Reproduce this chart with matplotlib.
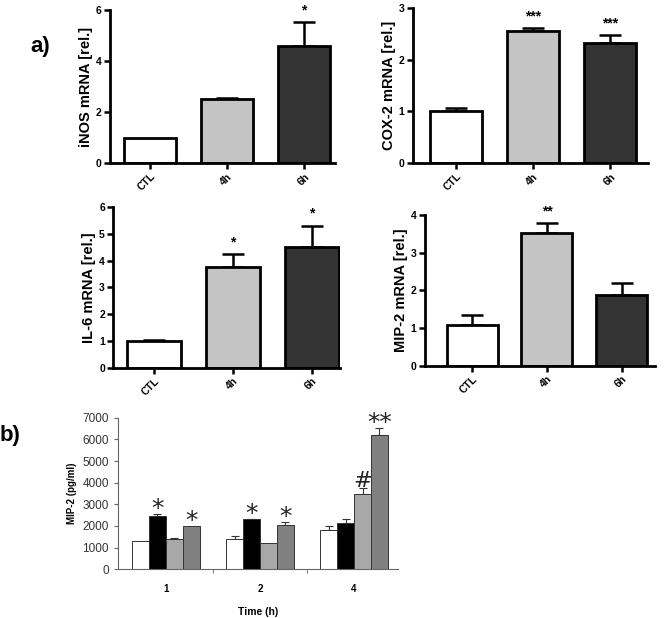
import numpy as np
import matplotlib
matplotlib.use('Agg')
import matplotlib.pyplot as plt

plt.rcParams['font.family'] = ['Liberation Sans', 'DejaVu Sans']

# panel a data
groups = ['CTL', '4h', '6h']
inos = [1.0, 2.5, 4.6]
inos_err = [0.0, 0.07, 0.93]
inos_sig = ['', '', '*']
cox2 = [1.01, 2.56, 2.32]
cox2_err = [0.06, 0.06, 0.15]
cox2_sig = ['', '***', '***']
il6 = [1.0, 3.75, 4.5]
il6_err = [0.03, 0.5, 0.8]
il6_sig = ['', '*', '*']
mip2 = [1.08, 3.52, 1.89]
mip2_err = [0.26, 0.28, 0.31]
mip2_sig = ['', '**', '']

# panel b data
times = ['1', '2', '4']
b_white = [1320, 1390, 1810]
b_white_err = [0, 130, 180]
b_black = [2450, 2300, 2130]
b_black_err = [80, 30, 180]
b_light = [1400, 1200, 3470]
b_light_err = [60, 0, 290]
b_dark = [2010, 2040, 6200]
b_dark_err = [0, 140, 310]
b_sig = [['', '*', '', '*'], ['', '*', '', '*'], ['', '', '#', '**']]

a_colors = ['white', '#c4c4c4', '#333333']

fig = plt.figure(figsize=(6.66, 6.18), dpi=100)


def panel_a(rect, vals, errs, sigs, ylabel, ymax, yticks, xlim):
    ax = fig.add_axes(rect)
    x = np.arange(len(groups))
    ax.bar(x, vals, width=0.68, color=a_colors, edgecolor='black', linewidth=2, zorder=2)
    for i in range(len(x)):
        if errs[i] > 0:
            ax.errorbar(x[i], vals[i], yerr=[[0], [errs[i]]], color='black', elinewidth=1.8,
                        capsize=8, capthick=1.8, zorder=1)
        if sigs[i]:
            ax.text(x[i], vals[i] + errs[i] + ymax * 0.03, sigs[i], ha='center', va='bottom',
                    fontsize=10, fontweight='bold')
    ax.set_ylim(0, ymax)
    ax.set_xlim(*xlim)
    ax.set_yticks(yticks)
    ax.set_xticks(x)
    ax.set_xticklabels(groups, rotation=45, ha='right', rotation_mode='anchor')
    for lab in ax.get_xticklabels() + ax.get_yticklabels():
        lab.set_fontweight('bold')
        lab.set_fontsize(7.5)
    ax.spines['top'].set_visible(False)
    ax.spines['right'].set_visible(False)
    ax.spines['left'].set_linewidth(2)
    ax.spines['bottom'].set_linewidth(2)
    ax.tick_params(width=1.8, length=4, pad=2)
    ax.set_ylabel(ylabel, fontsize=10.5, fontweight='bold', labelpad=2)
    return ax


panel_a([0.165, 0.736, 0.338, 0.248], inos, inos_err, inos_sig, 'iNOS mRNA [rel.]', 6, [0, 2, 4, 6], (-0.52, 2.40))
panel_a([0.620, 0.736, 0.353, 0.251], cox2, cox2_err, cox2_sig, 'COX-2 mRNA [rel.]', 3, [0, 1, 2, 3], (-0.56, 2.49))
panel_a([0.170, 0.405, 0.341, 0.260], il6, il6_err, il6_sig, 'IL-6 mRNA [rel.]', 6, [0, 1, 2, 3, 4, 5, 6], (-0.52, 2.36))
panel_a([0.638, 0.408, 0.345, 0.244], mip2, mip2_err, mip2_sig, 'MIP-2 mRNA [rel.]', 4, [0, 1, 2, 3, 4], (-0.63, 2.44))

# panel b
axb = fig.add_axes([0.177, 0.079, 0.421, 0.245])
xb = np.arange(len(times))
w = 0.18
series = [(b_white, b_white_err, 'white'), (b_black, b_black_err, 'black'),
          (b_light, b_light_err, '#a8a8a8'), (b_dark, b_dark_err, '#808080')]
for k, (vals, errs, col) in enumerate(series):
    pos = xb + (k - 1.5) * w
    axb.bar(pos, vals, width=w, color=col, edgecolor='#333333', linewidth=0.7, zorder=2)
    for i in range(len(xb)):
        if errs[i] > 0:
            axb.errorbar(pos[i], vals[i], yerr=[[0], [errs[i]]], color='#333333', elinewidth=0.8,
                         capsize=3, capthick=0.8, zorder=1)
        s = b_sig[i][k]
        if s == '#':
            axb.text(pos[i], vals[i] + errs[i] + 20, s, ha='center', va='baseline',
                     fontsize=16, family='DejaVu Sans', color='#222222')
        elif s:
            axb.text(pos[i], vals[i] + errs[i] - 90, s, ha='center', va='baseline',
                     fontsize=18, family='DejaVu Sans', color='#222222')
axb.set_xlim(-0.51, 2.47)
axb.set_ylim(0, 7000)
axb.set_yticks(np.arange(0, 7001, 1000))
axb.set_xticks(xb)
axb.set_xticklabels(times, fontweight='bold', fontsize=7)
axb.set_xticks([0.5, 1.5], minor=True)
axb.tick_params(axis='x', which='major', length=0, pad=11)
axb.tick_params(axis='x', which='minor', length=3, color='#666666')
axb.tick_params(axis='y', length=3, color='#666666', labelsize=8.5, labelcolor='#333333')
axb.spines['top'].set_visible(False)
axb.spines['right'].set_visible(False)
axb.spines['left'].set_color('#666666')
axb.spines['bottom'].set_color('#666666')
axb.set_ylabel('MIP-2 (pg/ml)', fontsize=7, fontweight='bold', labelpad=4)
axb.set_xlabel('Time (h)', fontsize=7.5, fontweight='bold', labelpad=9)

fig.text(0.045, 0.925, 'a)', fontsize=16, fontweight='bold', va='center')
fig.text(0.0, 0.295, 'b)', fontsize=16, fontweight='bold', va='center')

fig.savefig('out.png', dpi=100)
